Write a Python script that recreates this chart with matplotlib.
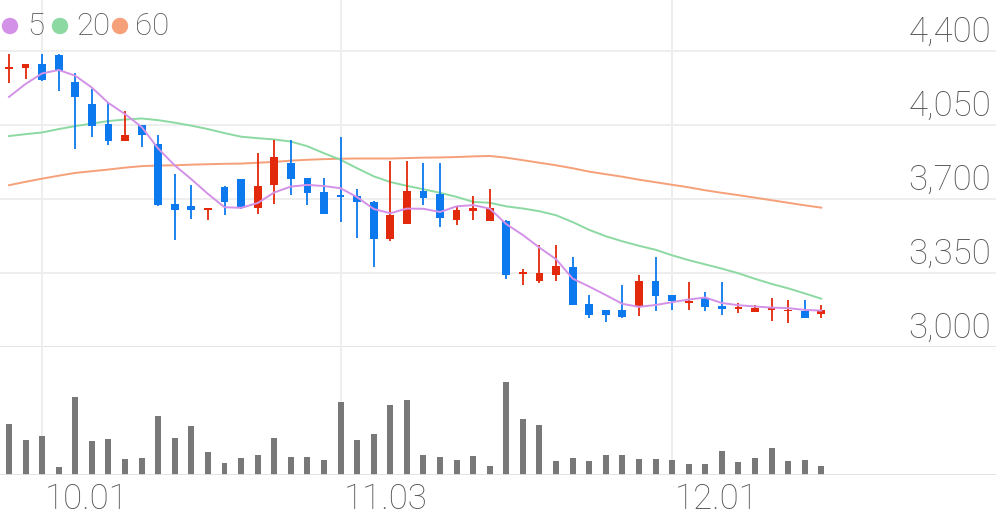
import numpy as np
import pandas as pd
import matplotlib
matplotlib.use("Agg")
import matplotlib.pyplot as plt
from matplotlib.patches import Circle

# ---------------- data ----------------
opens = [4312, 4319, 4336, 4379, 4252, 4147, 4052, 3972, 4048, 3958,
         3674, 3666, 3646, 3756, 3795, 3656, 3764, 3869, 3800, 3732,
         3717, 3713, 3685, 3512, 3579, 3737, 3721, 3598, 3644, 3594,
         3595, 3344, 3310, 3338, 3377, 3204, 3177, 3176, 3188, 3310,
         3247, 3207, 3233, 3193, 3181, 3164, 3173, 3169, 3168, 3157]
closes = [4323, 4336, 4262, 4303, 4180, 4043, 3972, 4000, 4000, 3669,
          3646, 3646, 3654, 3685, 3654, 3761, 3895, 3792, 3725, 3627,
          3709, 3685, 3512, 3625, 3737, 3704, 3609, 3646, 3654, 3654,
          3338, 3351, 3349, 3381, 3196, 3149, 3152, 3141, 3310, 3240,
          3215, 3215, 3188, 3181, 3188, 3185, 3188, 3176, 3138, 3173]
highs = [4382, 4336, 4382, 4382, 4295, 4216, 4153, 4115, 4048, 4000,
         3816, 3767, 3654, 3760, 3795, 3917, 3977, 3977, 3800, 3800,
         3992, 3748, 3690, 3877, 3877, 3871, 3871, 3666, 3712, 3748,
         3598, 3370, 3483, 3480, 3425, 3244, 3177, 3291, 3341, 3425,
         3247, 3306, 3259, 3306, 3209, 3200, 3231, 3220, 3220, 3196]
lows = [4245, 4265, 4258, 4208, 3937, 3992, 3953, 3972, 3945, 3665,
        3504, 3606, 3598, 3622, 3650, 3630, 3673, 3720, 3669, 3627,
        3590, 3515, 3377, 3499, 3579, 3669, 3567, 3575, 3598, 3594,
        3322, 3294, 3304, 3310, 3196, 3136, 3117, 3136, 3146, 3168,
        3177, 3173, 3169, 3149, 3162, 3164, 3125, 3113, 3136, 3136]
volumes = [153, 105, 115, 22, 234, 102, 106, 47, 51, 176,
           111, 145, 69, 34, 50, 60, 111, 52, 52, 44,
           217, 104, 122, 208, 224, 58, 52, 44, 55, 26,
           279, 167, 148, 40, 49, 41, 60, 58, 46, 47,
           43, 31, 31, 70, 38, 49, 79, 41, 44, 27]
ma5_head = [4181, 4242, 4292, 4308]
ma20 = [3996, 4005, 4013, 4029, 4043, 4055, 4067, 4074, 4079, 4071,
        4059, 4045, 4029, 4010, 3993, 3986, 3980, 3970, 3948, 3915,
        3884, 3844, 3806, 3779, 3761, 3745, 3728, 3709, 3685, 3681,
        3664, 3654, 3641, 3622, 3590, 3553, 3523, 3499, 3478, 3459,
        3433, 3410, 3390, 3370, 3348, 3322, 3298, 3277, 3253, 3228]
ma60 = [3764, 3780, 3795, 3809, 3822, 3830, 3838, 3847, 3854, 3857,
        3858, 3861, 3863, 3865, 3866, 3870, 3874, 3880, 3884, 3887,
        3889, 3890, 3890, 3890, 3892, 3894, 3895, 3897, 3900, 3902,
        3894, 3882, 3870, 3858, 3844, 3828, 3816, 3804, 3790, 3778,
        3766, 3754, 3740, 3728, 3717, 3705, 3693, 3681, 3669, 3658]
price_ticks = [3000, 3350, 3700, 4050, 4400]
date_labels = ["10.01", "11.03", "12.01"]
date_index = [2, 20, 40]

# ---------------- style ----------------
RED = "#E2290B"
BLUE = "#0C79EE"
C_MA5 = "#D391E8"
C_MA20 = "#8CD9A2"
C_MA60 = "#F6A079"
GRID = "#EEEEEE"
TXT = "#575757"
FONT = "Roboto"
FS_AXIS = 25
FS_LEG = 22.5
WEIGHT = "light"

W, H = 996, 519
fig = plt.figure(figsize=(W / 100, H / 100), dpi=100)

def ax_rect(top_px, bot_px):
    return [0, 1 - bot_px / H, 1, (bot_px - top_px) / H]

n = len(opens)
x = np.arange(n)
px_per_idx = (821.3 - 9) / (n - 1)
xl = -9 / px_per_idx
xr = xl + W / px_per_idx

# price panel
ax = fig.add_axes(ax_rect(0, 347))
ppp = (4400 - 3000) / (347 - 50.5)
ax.set_ylim(3000, 4400 + 50.5 * ppp)
ax.set_xlim(xl, xr)
ax.axis("off")
for t in price_ticks:
    ax.axhline(t, color=GRID if t != 3000 else "#E4E4E4", lw=1.4, zorder=0)
    ax.text(991 / W, t + 9 * ppp, f"{t:,}", transform=ax.get_yaxis_transform(),
            ha="right", va="baseline", fontsize=FS_AXIS, color=TXT,
            family=FONT, fontweight=WEIGHT)
for di in date_index:
    ax.axvline(di, color=GRID, lw=1.4, zorder=0)

o = np.array(opens); c = np.array(closes)
hi = np.array(highs); lo = np.array(lows)
up = c >= o
cols = np.where(up, RED, BLUE)
ax.vlines(x, lo, hi, colors=cols, lw=1.3, zorder=3)
body_h = np.maximum(np.abs(c - o), 8)
ax.bar(x, body_h, bottom=np.minimum(o, c), width=0.47, color=cols, zorder=4)

ma5 = pd.Series(closes).rolling(5).mean().to_numpy()
ma5[:4] = ma5_head
ax.plot(x, ma60, color=C_MA60, lw=1.4, zorder=2)
ax.plot(x, ma20, color=C_MA20, lw=1.4, zorder=2)
ax.plot(x, ma5, color=C_MA5, lw=1.4, zorder=5)

# volume panel
axv = fig.add_axes(ax_rect(347, 474.5))
axv.set_xlim(xl, xr)
axv.set_ylim(0, max(volumes) * 127.5 / 93)
axv.axis("off")
for di in date_index:
    axv.axvline(di, color=GRID, lw=1.4, zorder=0)
axv.bar(x, volumes, width=0.36, color="#787878", zorder=3)
axv.axhline(0, color="#E0E0E0", lw=2, zorder=4)

# overlay for labels / legend
ov = fig.add_axes([0, 0, 1, 1])
ov.set_xlim(0, W); ov.set_ylim(H, 0)
ov.axis("off")
for lab, di in zip(date_labels, date_index):
    xp = 9 + di * px_per_idx + 3
    ov.text(xp, 509, lab, ha="left", va="baseline", fontsize=FS_AXIS,
            color=TXT, family=FONT, fontweight=WEIGHT)

legend = [("5", C_MA5, 10, 27), ("20", C_MA20, 60, 76), ("60", C_MA60, 120, 135)]
for lab, col, cx, tx in legend:
    ov.add_patch(Circle((cx, 26), 7.5, color=col, zorder=5))
    ov.text(tx, 35, lab, ha="left", va="baseline", fontsize=FS_LEG,
            color=TXT, family=FONT, fontweight=WEIGHT)

fig.savefig("out.png", dpi=100)
